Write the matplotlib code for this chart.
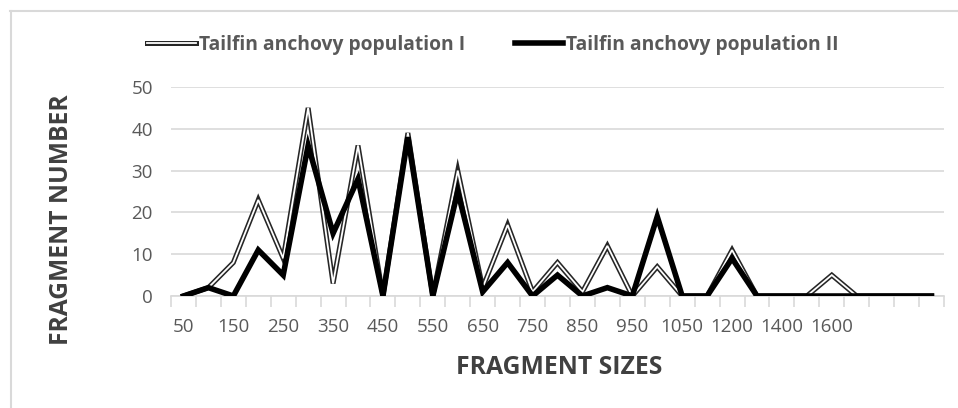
import numpy as np
import matplotlib.pyplot as plt
import matplotlib.patheffects as pe
from matplotlib.lines import Line2D

plt.rcParams['font.family'] = ['Open Sans', 'DejaVu Sans']

# Категории по оси X (подписи Excel показывает через одну).
sizes = ['50', '100', '150', '200', '250', '300', '350', '400', '450', '500',
         '550', '600', '650', '700', '750', '800', '850', '900', '950', '1000',
         '1050', '1100', '1200', '1300', '1400', '1500', '1600', '', '', '', '']

# Число фрагментов для двух популяций.
pop1 = [0, 2, 8, 23, 9, 45, 3, 36, 0, 39, 0, 30, 2, 17, 1, 8, 1, 12, 0, 7,
        0, 0, 11, 0, 0, 0, 5, 0, 0, 0, 0]
pop2 = [0, 2, 0, 11, 5, 36, 15, 28, 0, 38, 0, 25, 1, 8, 0, 5, 0, 2, 0, 19,
        0, 0, 9, 0, 0, 0, 0, 0, 0, 0, 0]

W, H = 958, 408
fig = plt.figure(figsize=(W / 100, H / 100), dpi=100)
ax = fig.add_axes([171 / W, 1 - 296 / H, (944 - 171) / W, (296 - 87) / H])

x = np.arange(len(sizes))
grid_c = '#d9d9d9'
text_c = '#595959'

# Двойная линия: белая середина с тёмной обводкой.
ax.plot(x, pop1, color='white', lw=1.3, solid_joinstyle='miter',
        path_effects=[pe.withStroke(linewidth=3.6, foreground='#262626')],
        label='Tailfin anchovy population I', zorder=3)
ax.plot(x, pop2, color='black', lw=4, solid_joinstyle='miter',
        label='Tailfin anchovy population II', zorder=4)

ax.set_xlim(-0.5, len(sizes) - 0.5)
ax.set_ylim(0, 50)
ax.set_yticks(range(0, 51, 10))
ax.yaxis.grid(True, color=grid_c, lw=1.2)
ax.set_axisbelow(True)
ax.tick_params(axis='y', length=0, pad=13, labelsize=13.5, labelcolor=text_c)

labels = [s if i % 2 == 0 else '' for i, s in enumerate(sizes)]
ax.set_xticks(x)
ax.set_xticklabels(labels)
ax.tick_params(axis='x', which='major', length=0, pad=16, labelsize=13.5,
               labelcolor=text_c)
ax.set_xticks(np.arange(len(sizes) + 1) - 0.5, minor=True)
ax.tick_params(axis='x', which='minor', length=8, color=grid_c, width=1.2)

for s in ['top', 'right', 'left']:
    ax.spines[s].set_visible(False)
ax.spines['bottom'].set_color(grid_c)
ax.spines['bottom'].set_linewidth(1.2)

fig.text(62 / W, 1 - 220 / H, 'FRAGMENT NUMBER', rotation=90, ha='center',
         va='center', fontsize=17.7, fontweight='bold', color='#404040')
fig.text(559 / W, 1 - 368 / H, 'FRAGMENT SIZES', ha='center', va='center',
         fontsize=17.8, fontweight='bold', color='#404040')

leg = fig.legend(loc='center', bbox_to_anchor=(493 / W, 1 - 45 / H), ncol=2,
                 frameon=False, fontsize=13.9, handlelength=2.5,
                 handletextpad=0.15, columnspacing=2.6)
for t in leg.get_texts():
    t.set_color(text_c)
    t.set_fontweight('bold')

# Рамка диаграммы (обрезана справа и снизу).
fig.add_artist(Line2D([10.5 / W, 10.5 / W], [0, 1 - 11 / H], color=grid_c,
                      lw=1.5, transform=fig.transFigure))
fig.add_artist(Line2D([10 / W, 1], [1 - 11 / H, 1 - 11 / H], color=grid_c,
                      lw=1.5, transform=fig.transFigure))

fig.savefig('out.png', dpi=100)
